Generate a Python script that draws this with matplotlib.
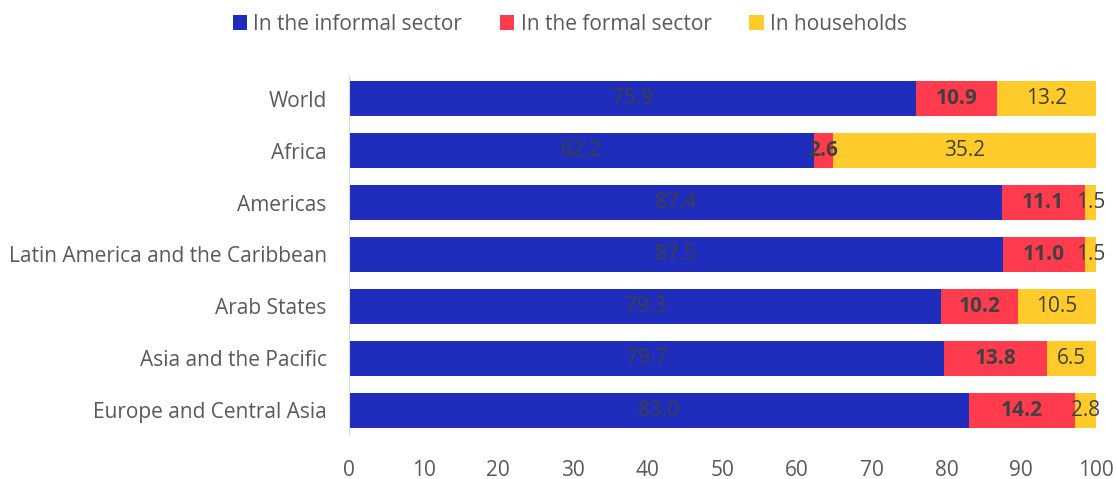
import matplotlib.pyplot as plt
import numpy as np

# regions, top to bottom
regions = ["World", "Africa", "Americas", "Latin America and the Caribbean",
           "Arab States", "Asia and the Pacific", "Europe and Central Asia"]
informal = [75.9, 62.2, 87.4, 87.5, 79.3, 79.7, 83.0]
formal = [10.9, 2.6, 11.1, 11.0, 10.2, 13.8, 14.2]
households = [13.2, 35.2, 1.5, 1.5, 10.5, 6.5, 2.8]

series = ["In the informal sector", "In the formal sector", "In households"]
colors = ["#1F2DBD", "#FF3B4D", "#FFCB2B"]

plt.rcParams['font.family'] = ['Open Sans', 'DejaVu Sans']
txt = "#595959"
fs = 15

fig = plt.figure(figsize=(11.17, 4.79), dpi=100)
ax = fig.add_axes([0.3124, 0.0919, 0.6688, 0.7515])

y = np.arange(len(regions))
left = np.zeros(len(regions))
for vals, col, name, weight in zip([informal, formal, households], colors, series,
                                   ["normal", "bold", "normal"]):
    vals = np.array(vals)
    ax.barh(y, vals, left=left, height=0.675, color=col, label=name)
    for yi, l, v in zip(y, left, vals):
        ax.text(l + v / 2, yi, f"{v:.1f}", ha="center", va="center",
                fontsize=fs, color="#404040", fontweight=weight)
    left = left + vals

ax.set_yticks(y)
ax.set_yticklabels(regions, fontsize=fs, color=txt)
ax.set_ylim(6.48, -0.46)
ax.set_xlim(0, 100)
ax.set_xticks(range(0, 101, 10))
ax.tick_params(axis="x", labelsize=fs, colors=txt, length=0, pad=18)
ax.tick_params(axis="y", length=0, pad=16)
for s in ["top", "right", "bottom"]:
    ax.spines[s].set_visible(False)
ax.spines["left"].set_color("#D9D9D9")

fig.legend(loc="upper center", bbox_to_anchor=(0.51, 1.01), ncol=3, frameon=False,
           fontsize=fs, labelcolor=txt, handlelength=0.7, handleheight=0.7,
           handletextpad=0.3, columnspacing=1.8)

fig.savefig("out.png", dpi=100)
